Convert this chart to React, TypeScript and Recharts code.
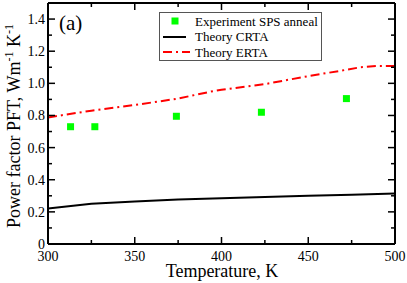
import React from 'react';
import { ComposedChart, Line, Scatter, XAxis, YAxis } from 'recharts';

const expT = [313, 327, 374, 423, 472];
const expPF = [0.73, 0.73, 0.795, 0.82, 0.905];

const crtaT = [300, 325, 350, 375, 400, 425, 450, 475, 500];
const crtaPF = [0.221, 0.25, 0.265, 0.277, 0.285, 0.292, 0.3, 0.307, 0.314];

const ertaT = [300, 325, 350, 375, 394, 400, 425, 450, 468, 480, 490, 500];
const ertaPF = [0.788, 0.83, 0.865, 0.905, 0.949, 0.96, 0.995, 1.045, 1.077, 1.1, 1.108, 1.108];

const xTicks = [300, 325, 350, 375, 400, 425, 450, 475, 500];
const xMajor = [300, 350, 400, 450, 500];
const yTicks = [0, 0.1, 0.2, 0.3, 0.4, 0.5, 0.6, 0.7, 0.8, 0.9, 1.0, 1.1, 1.2, 1.3, 1.4];
const yMajorLabels: Record<string, string> = {
  '0': '0', '0.2': '0.2', '0.4': '0.4', '0.6': '0.6', '0.8': '0.8',
  '1': '1.0', '1.2': '1.2', '1.4': '1.4',
};

const expData = expT.map((t, i) => ({ t, v: expPF[i] }));
const crtaData = crtaT.map((t, i) => ({ t, v: crtaPF[i] }));
const ertaData = ertaT.map((t, i) => ({ t, v: ertaPF[i] }));

const FONT = '"Liberation Serif", "Times New Roman", serif';
const MAJ = 7;
const MIN = 4;

const isXMajor = (v: number) => xMajor.includes(v);
const yKey = (v: number) => String(Math.round(v * 10) / 10);

const BottomTick = (props: any) => {
  const { x, y, payload } = props;
  const major = isXMajor(payload.value);
  return (
    <g>
      <line x1={x} x2={x} y1={y} y2={y - (major ? MAJ : MIN)} stroke="#000" strokeWidth={1.5} />
      {major && (
        <text x={x} y={y + 17} textAnchor="middle" fontSize={14} fontFamily={FONT} fill="#000">
          {payload.value}
        </text>
      )}
    </g>
  );
};

const TopTick = (props: any) => {
  const { x, y, payload } = props;
  const major = isXMajor(payload.value);
  return <line x1={x} x2={x} y1={y} y2={y + (major ? MAJ : MIN)} stroke="#000" strokeWidth={1.5} />;
};

const LeftTick = (props: any) => {
  const { x, y, payload } = props;
  const lbl = yMajorLabels[yKey(payload.value)];
  const major = lbl !== undefined;
  return (
    <g>
      <line x1={x} x2={x + (major ? MAJ : MIN)} y1={y} y2={y} stroke="#000" strokeWidth={1.5} />
      {major && (
        <text x={x - 3} y={y + 5} textAnchor="end" fontSize={14} fontFamily={FONT} fill="#000">
          {lbl}
        </text>
      )}
    </g>
  );
};

const RightTick = (props: any) => {
  const { x, y, payload } = props;
  const major = yMajorLabels[yKey(payload.value)] !== undefined;
  return <line x1={x} x2={x - (major ? MAJ : MIN)} y1={y} y2={y} stroke="#000" strokeWidth={1.5} />;
};

const Square = (props: any) => {
  const { cx, cy } = props;
  return <rect x={cx - 3.5} y={cy - 3.5} width={7} height={7} fill="#00ff00" />;
};

const YLabel = () => (
  <text
    transform="translate(20,126) rotate(-90)"
    textAnchor="middle"
    fontSize={18}
    fontFamily={FONT}
    fill="#000"
  >
    Power factor PFT, Wm
    <tspan dy={-7} fontSize={12}>-1</tspan>
    <tspan dy={7}> K</tspan>
    <tspan dy={-7} fontSize={12}>-1</tspan>
  </text>
);

export default function App() {
  return (
    <div style={{ position: 'absolute', left: 0, top: 0, width: 407, height: 283, background: '#fff' }}>
      <ComposedChart
        width={407}
        height={283}
        margin={{ top: 0, right: 0, left: 0, bottom: 0 }}
      >
        <XAxis
          xAxisId="b"
          dataKey="t"
          type="number"
          domain={[300, 500]}
          ticks={xTicks}
          interval={0}
          height={39}
          tickSize={0}
          tickMargin={0}
          tickLine={false}
          axisLine={{ stroke: '#000', strokeWidth: 2 }}
          tick={<BottomTick />}
          allowDataOverflow
        />
        <XAxis
          xAxisId="t"
          orientation="top"
          dataKey="t"
          type="number"
          domain={[300, 500]}
          ticks={xTicks}
          interval={0}
          height={3}
          tickSize={0}
          tickMargin={0}
          tickLine={false}
          axisLine={{ stroke: '#000', strokeWidth: 2 }}
          tick={<TopTick />}
          allowDataOverflow
        />
        <YAxis
          yAxisId="l"
          type="number"
          domain={[0, 1.5]}
          ticks={yTicks}
          interval={0}
          width={48}
          tickSize={0}
          tickMargin={0}
          tickLine={false}
          axisLine={{ stroke: '#000', strokeWidth: 2 }}
          tick={<LeftTick />}
          allowDataOverflow
        />
        <YAxis
          yAxisId="r"
          orientation="right"
          type="number"
          domain={[0, 1.5]}
          ticks={yTicks}
          interval={0}
          width={12}
          tickSize={0}
          tickMargin={0}
          tickLine={false}
          axisLine={{ stroke: '#000', strokeWidth: 2 }}
          tick={<RightTick />}
          allowDataOverflow
        />
        <Line
          xAxisId="b"
          yAxisId="l"
          data={crtaData}
          dataKey="v"
          type="linear"
          stroke="#000"
          strokeWidth={2}
          dot={false}
          isAnimationActive={false}
        />
        <Line
          xAxisId="b"
          yAxisId="l"
          data={ertaData}
          dataKey="v"
          type="linear"
          stroke="#ff0000"
          strokeWidth={2}
          strokeDasharray="9 4 2 4"
          dot={false}
          isAnimationActive={false}
        />
        <Scatter
          xAxisId="b"
          yAxisId="l"
          data={expData}
          dataKey="v"
          shape={<Square />}
          isAnimationActive={false}
        />
        <YLabel />
        <text x={222} y={277} textAnchor="middle" fontSize={18} fontFamily={FONT} fill="#000">
          Temperature, K
        </text>
        <text x={59} y={30} fontSize={21} fontFamily={FONT} fill="#000">
          (a)
        </text>
        <g>
          <rect x={159.5} y={12.5} width={162} height={48} fill="#fff" stroke="#555" strokeWidth={1} />
          <rect x={171.5} y={17.5} width={7} height={7} fill="#00ff00" />
          <text x={195} y={25.5} fontSize={13} fontFamily={FONT} fill="#000">Experiment SPS anneal</text>
          <line x1={163} x2={186} y1={37} y2={37} stroke="#000" strokeWidth={2} />
          <text x={195} y={41} fontSize={13} fontFamily={FONT} fill="#000">Theory CRTA</text>
          <line x1={163} x2={190} y1={52} y2={52} stroke="#ff0000" strokeWidth={2} strokeDasharray="9 4 2 4" />
          <text x={195} y={56.5} fontSize={13} fontFamily={FONT} fill="#000">Theory ERTA</text>
        </g>
      </ComposedChart>
    </div>
  );
}
